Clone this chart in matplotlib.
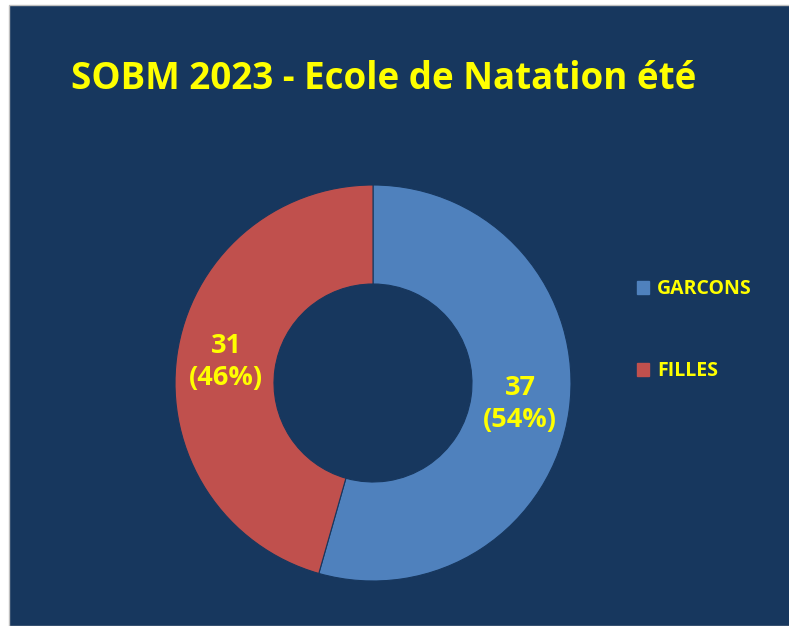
import numpy as np
import matplotlib.pyplot as plt
from matplotlib.patches import Rectangle, Patch

## Data ##
categories = ["GARCONS", "FILLES"]
counts = [37, 31]
colors = ["#4F81BD", "#C0504D"]
title = "SOBM 2023 - Ecole de Natation été"

W, H = 789, 626
navy = "#17375E"
yellow = "#FFFF00"
plt.rcParams['font.family'] = ['Open Sans', 'DejaVu Sans']

fig = plt.figure(figsize=(W / 100, H / 100), dpi=100, facecolor="white")

# Chart area background
fig.patches.append(Rectangle((8.5 / W, 0), 1, (H - 4.5) / H, transform=fig.transFigure,
                             facecolor=navy, edgecolor="#BFBFBF", linewidth=1, zorder=-10))

# Donut
cx, cy, r = 373, H - 383, 198
ax = fig.add_axes([(cx - r) / W, (cy - r) / H, 2 * r / W, 2 * r / H])
ax.set_facecolor("none")
total = sum(counts)

wedges, texts = ax.pie(counts, colors=colors, startangle=90, counterclock=False,
                       radius=1, wedgeprops=dict(width=0.5, edgecolor=navy, linewidth=0.8))
for w, n in zip(wedges, counts):
    ang = np.deg2rad((w.theta1 + w.theta2) / 2)
    pct = 100 * n / total
    ax.text(0.75 * np.cos(ang), 0.75 * np.sin(ang), f"{n}\n({pct:.0f}%)", ha="center",
            va="center", color=yellow, fontsize=19.5, fontweight="bold", linespacing=1.3)
ax.set_xlim(-1, 1)
ax.set_ylim(-1, 1)
ax.set_aspect("equal")
ax.axis("off")

# Title
fig.text(384 / W, 1 - 79 / H, title, ha="center", va="center", color=yellow,
         fontsize=26.5, fontweight="bold")

# Legend
handles = [Patch(facecolor=c, edgecolor=c) for c in colors]
leg = fig.legend(handles, categories, loc="center left", bbox_to_anchor=(619 / W, 1 - 330 / H),
                 frameon=False, labelcolor=yellow, prop=dict(weight="bold", size=14),
                 handlelength=0.65, handleheight=0.65, handletextpad=0.4, labelspacing=3.2)

fig.savefig("out.png", dpi=100, facecolor=fig.get_facecolor())
